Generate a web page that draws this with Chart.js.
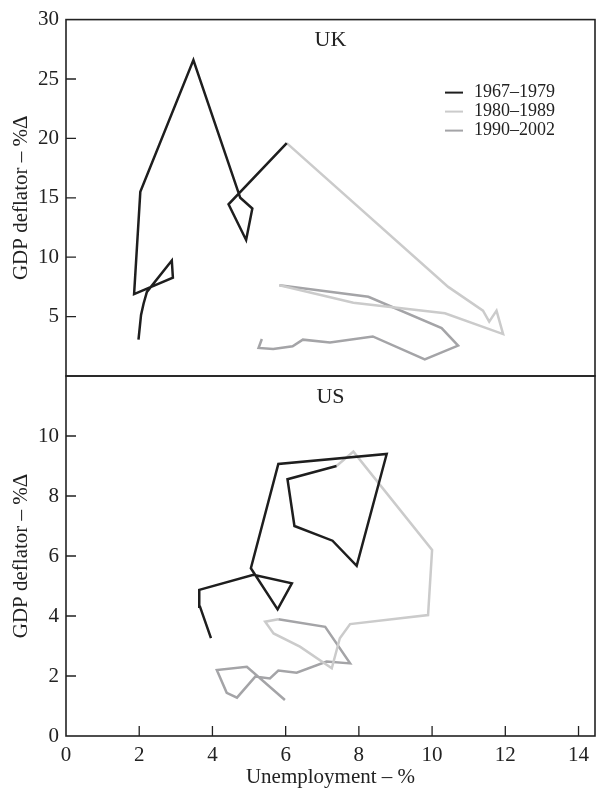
<!DOCTYPE html>
<html>
<head>
<meta charset="utf-8">
<script src="https://cdn.jsdelivr.net/npm/chart.js@4.4.1/dist/chart.umd.min.js"></script>
<style>
  body { margin: 0; background: #fff; }
  .panel { position: absolute; left: 0; top: 0; width: 606px; height: 794px; }
</style>
</head>
<body>
<div class="panel"><canvas id="uk"></canvas></div>
<div class="panel"><canvas id="us"></canvas></div>
<script>
const periods = ['1967–1979', '1980–1989', '1990–2002'];
const xTicks = [0, 2, 4, 6, 8, 10, 12, 14];
const ukTicks = [5, 10, 15, 20, 25, 30];
const usTicks = [0, 2, 4, 6, 8, 10];

// UK: unemployment (%) and GDP deflator (%Δ); each period ends on the next one's first year
const ukUnemp1 = [1.98, 2.05, 2.12, 2.21, 2.89, 2.92, 1.86, 2.03, 3.48, 4.76, 5.09, 4.92, 4.44, 6.03];
const ukDefl1 = [3.06, 5.14, 6.1, 7.08, 9.72, 8.28, 6.89, 15.5, 26.6, 15.0, 14.1, 11.45, 14.45, 19.6];
const ukUnemp2 = [6.03, 10.44, 11.39, 11.56, 11.76, 11.94, 10.35, 7.85, 5.83];
const ukDefl2 = [19.6, 7.5, 5.5, 4.58, 5.5, 3.53, 5.28, 6.17, 7.64];
const ukUnemp3 = [5.83, 8.26, 10.26, 10.71, 9.8, 8.38, 7.21, 6.47, 6.19, 5.66, 5.26, 5.35];
const ukDefl3 = [7.64, 6.67, 4.03, 2.56, 1.39, 3.33, 2.83, 3.06, 2.5, 2.28, 2.36, 3.11];

// US
const usUnemp1 = [3.96, 3.66, 3.64, 5.12, 6.17, 5.78, 5.05, 5.8, 8.76, 7.94, 7.28, 6.24, 6.05, 7.39];
const usDefl1 = [3.26, 4.31, 4.87, 5.37, 5.09, 4.22, 5.59, 9.07, 9.4, 5.67, 6.51, 7.0, 8.56, 9.0];
const usUnemp2 = [7.39, 7.85, 10.0, 9.89, 7.76, 7.48, 7.26, 6.39, 5.67, 5.44, 5.8];
const usDefl2 = [9.0, 9.48, 6.2, 4.03, 3.73, 3.26, 2.26, 2.98, 3.42, 3.81, 3.89];
const usUnemp3 = [5.8, 7.08, 7.76, 7.12, 6.3, 5.8, 5.57, 5.17, 4.67, 4.39, 4.12, 4.94, 5.98];
const usDefl3 = [3.89, 3.64, 2.42, 2.48, 2.11, 2.18, 1.92, 1.98, 1.28, 1.44, 2.2, 2.31, 1.2];

const colors = ['#1e1e1e', '#cbcbcb', '#a4a4a7'];
const ink = '#222';

Chart.defaults.font.family = '"Liberation Serif", "Times New Roman", serif';
Chart.defaults.font.size = 21;
Chart.defaults.color = ink;

function points(xs, ys) {
	return xs.map((x, i) => ({ x: x, y: ys[i] }));
}

function makeDatasets(parts) {
	return parts.map((p, i) => ({
		label: periods[i],
		data: points(p[0], p[1]),
		showLine: true,
		borderColor: colors[i],
		borderWidth: 2.5,
		borderJoinStyle: 'miter',
		pointRadius: 0,
		fill: false,
	}));
}

// box around the panel, inward tick marks, panel name and legend
const panelDecor = {
	id: 'panelDecor',
	afterDatasetsDraw(chart, args, opts) {
		const { ctx, chartArea: a, scales } = chart;
		ctx.save();
		ctx.strokeStyle = ink;
		ctx.lineWidth = 1.6;
		ctx.strokeRect(a.left, a.top, a.right - a.left, a.bottom - a.top);

		ctx.lineWidth = 1.3;
		ctx.beginPath();
		scales.y.ticks.forEach((t) => {
			const py = scales.y.getPixelForValue(t.value);
			if (py > a.top + 2 && py < a.bottom - 2) {
				ctx.moveTo(a.left, py);
				ctx.lineTo(a.left + 10, py);
			}
		});
		if (scales.x.options.display) {
			scales.x.ticks.forEach((t) => {
				const px = scales.x.getPixelForValue(t.value);
				if (px > a.left + 2 && px < a.right - 2) {
					ctx.moveTo(px, a.bottom);
					ctx.lineTo(px, a.bottom - 10);
				}
			});
		}
		ctx.stroke();

		ctx.fillStyle = ink;
		ctx.font = '22px "Liberation Serif"';
		ctx.textAlign = 'center';
		ctx.textBaseline = 'middle';
		ctx.fillText(opts.name, (a.left + a.right) / 2, a.top + 21);

		if (opts.legend) {
			ctx.font = '18px "Liberation Serif"';
			ctx.textAlign = 'left';
			ctx.lineWidth = 2;
			chart.data.datasets.forEach((ds, i) => {
				const y = a.top + 73 + i * 19;
				const x = a.right - 150;
				ctx.strokeStyle = ds.borderColor;
				ctx.beginPath();
				ctx.moveTo(x, y);
				ctx.lineTo(x + 18, y);
				ctx.stroke();
				ctx.fillText(ds.label, x + 29, y);
			});
		}
		ctx.restore();
	},
};

function makeChart(id, parts, yMax, yTicks, opts) {
	const bottomPanel = opts.name === 'US';
	return new Chart(document.getElementById(id), {
		type: 'scatter',
		data: { datasets: makeDatasets(parts) },
		plugins: [panelDecor],
		options: {
			responsive: true,
			maintainAspectRatio: false,
			animation: false,
			events: [],
			layout: {
				padding: bottomPanel
					? { top: 376, left: 0, right: 11, bottom: 0 }
					: { top: 17, left: 0, right: 11, bottom: 418 },
			},
			plugins: {
				legend: { display: false },
				tooltip: { enabled: false },
				panelDecor: opts,
			},
			scales: {
				x: {
					type: 'linear',
					display: bottomPanel,
					min: 0,
					max: 14.45,
					afterBuildTicks: (axis) => {
						axis.ticks = xTicks.map((v) => ({ value: v }));
					},
					afterFit: (axis) => {
						axis.height = bottomPanel ? 58 : 0;
					},
					grid: { display: false, drawTicks: false },
					border: { display: false },
					ticks: { padding: 7, maxRotation: 0 },
					title: {
						display: true,
						text: 'Unemployment – %',
						padding: { top: 0, bottom: 4 },
					},
				},
				y: {
					type: 'linear',
					min: 0,
					max: yMax,
					afterBuildTicks: (axis) => {
						axis.ticks = yTicks.map((v) => ({ value: v }));
					},
					afterFit: (axis) => {
						axis.width = 66;
					},
					grid: { display: false, drawTicks: false },
					border: { display: false },
					ticks: { padding: 7 },
					title: {
						display: true,
						text: 'GDP deflator – %Δ',
						padding: { top: 9, bottom: 0 },
					},
				},
			},
		},
	});
}

makeChart('uk', [[ukUnemp1, ukDefl1], [ukUnemp2, ukDefl2], [ukUnemp3, ukDefl3]], 30, ukTicks, { name: 'UK', legend: true });
makeChart('us', [[usUnemp1, usDefl1], [usUnemp2, usDefl2], [usUnemp3, usDefl3]], 12, usTicks, { name: 'US', legend: false });
</script>
</body>
</html>
